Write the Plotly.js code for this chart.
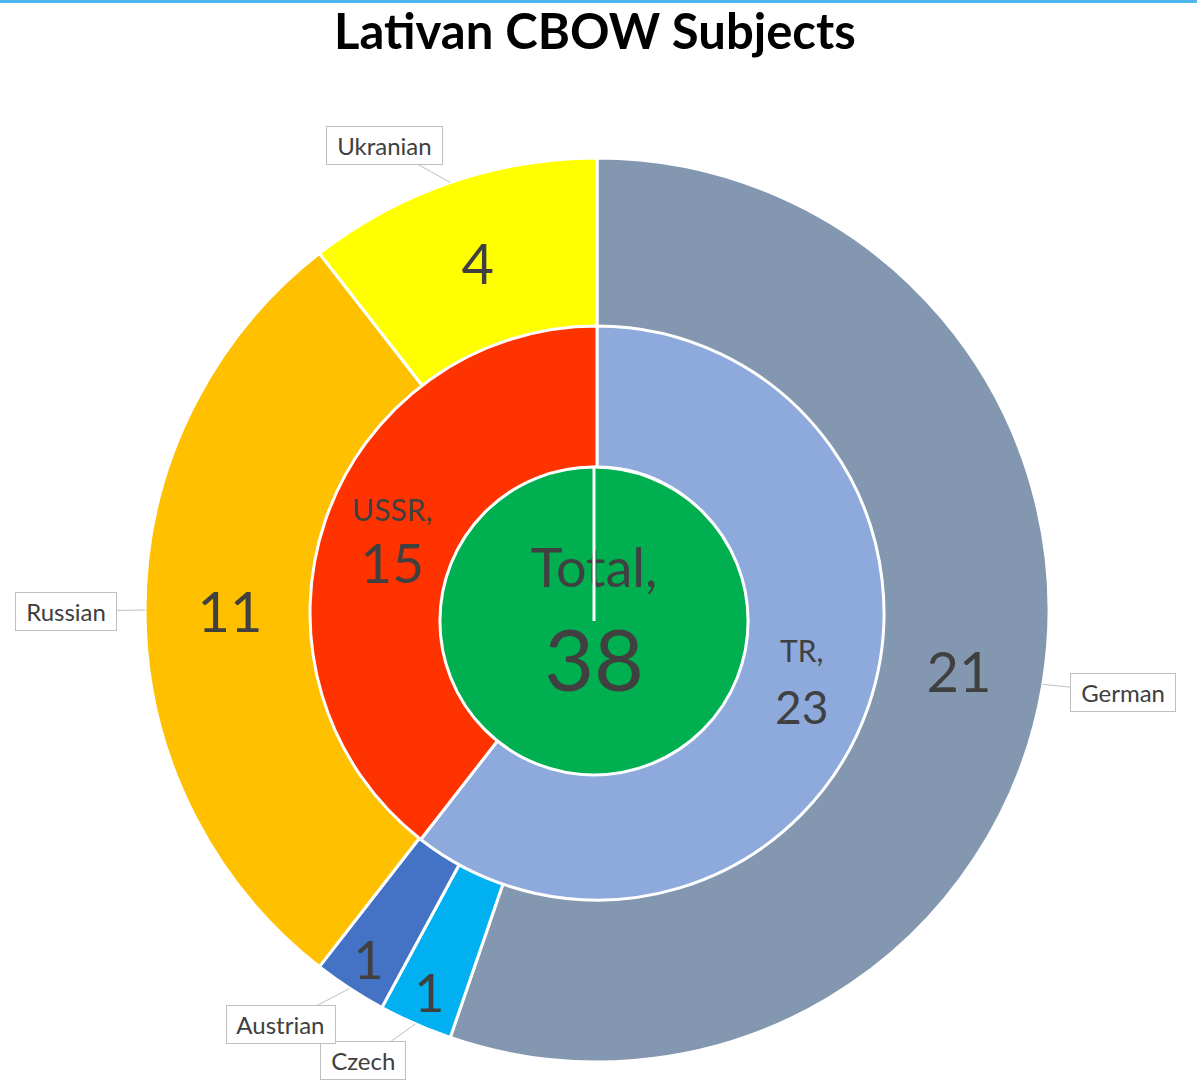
<!DOCTYPE html>
<html>
<head>
<meta charset="utf-8">
<script src="https://cdn.plot.ly/plotly-3.0.1.min.js"></script>
<style>
  html, body { margin: 0; padding: 0; background: #ffffff; }
  #chart { width: 1197px; height: 1084px; }
</style>
</head>
<body>
<div id="chart"></div>
<script>
// ---- data ----
const centerLabels = ['Total'];
const centerValues = [38];
const groupLabels = ['TR', 'USSR'];
const groupValues = [23, 15];
const nationLabels = ['German', 'Czech', 'Austrian', 'Russian', 'Ukranian'];
const nationValues = [21, 1, 1, 11, 4];

// ---- styles ----
const centerColors = ['#00B050'];
const groupColors = ['#8EA9DB', '#FF3300'];
const nationColors = ['#8497B0', '#00B0F0', '#4472C4', '#FFC000', '#FFFF00'];
const textColor = '#404040';
const FONT = 'Lato, "Open Sans", sans-serif';

const W = 1197, H = 1084;
const CX = 597, CY = 610, R_OUT = 452;        // outer ring
const MCX = 597, MCY = 613, R_MID = 287;      // middle ring
const ICX = 594, ICY = 621, R_IN = 154;       // centre disc

function domainFor(cx, cy, r) {
  return {
    x: [(cx - r) / W, (cx + r) / W],
    y: [1 - (cy + r) / H, 1 - (cy - r) / H]
  };
}

const centerText = centerLabels.map((l, i) =>
  '<span style="font-size:54px">' + l + ',</span><br><span style="font-size:86px">' + centerValues[i] + '</span>');
const groupSizes = [46, 55];
const groupText = groupLabels.map((l, i) =>
  '<span style="font-size:30px">' + l + ',</span><br><span style="font-size:' + groupSizes[i] + 'px">' + groupValues[i] + '</span>');
const nationText = nationValues.map(v => String(v));

const common = {
  type: 'pie',
  sort: false,
  direction: 'clockwise',
  rotation: 0,
  textposition: 'inside',
  insidetextorientation: 'horizontal',
  textinfo: 'text',
  hoverinfo: 'label+value',
  showlegend: false
};

const outer = Object.assign({}, common, {
  labels: nationLabels,
  values: nationValues,
  text: nationText,
  hole: (R_MID - 5) / R_OUT,
  domain: domainFor(CX, CY, R_OUT),
  marker: { colors: nationColors, line: { color: '#ffffff', width: 3 } },
  insidetextfont: { family: FONT, size: 56, color: textColor }
});

const middle = Object.assign({}, common, {
  labels: groupLabels,
  values: groupValues,
  text: groupText,
  hole: 146 / R_MID,
  domain: domainFor(MCX, MCY, R_MID),
  marker: { colors: groupColors, line: { color: '#ffffff', width: 3 } },
  insidetextfont: { family: FONT, size: 48, color: textColor }
});

const inner = Object.assign({}, common, {
  labels: centerLabels,
  values: centerValues,
  text: centerText,
  hole: 0,
  domain: domainFor(ICX, ICY, R_IN),
  marker: { colors: centerColors, line: { color: '#ffffff', width: 3 } },
  insidetextfont: { family: FONT, size: 80, color: textColor }
});

// callouts for outer ring
const calloutOffsets = [[80, 8], [-52, 37], [-69, 36], [-79, 1], [-66, -37]];
const totalOuter = nationValues.reduce((a, b) => a + b, 0);
let cum = 0;
const annotations = nationLabels.map((lab, i) => {
  const mid = (cum + nationValues[i] / 2) / totalOuter * 2 * Math.PI;
  cum += nationValues[i];
  const px = CX + R_OUT * Math.sin(mid);
  const py = CY - R_OUT * Math.cos(mid);
  return {
    xref: 'paper', yref: 'paper',
    x: px / W, y: 1 - py / H,
    text: '&nbsp;' + lab + '&nbsp;',
    showarrow: true, arrowhead: 0, arrowwidth: 1, arrowcolor: '#BFBFBF',
    ax: calloutOffsets[i][0], ay: calloutOffsets[i][1],
    bgcolor: '#ffffff', bordercolor: '#BFBFBF', borderwidth: 1, borderpad: 4,
    font: { family: FONT, size: 24, color: textColor }
  };
});

const layout = {
  width: W, height: H,
  margin: { l: 0, r: 0, t: 0, b: 0 },
  paper_bgcolor: '#ffffff',
  title: {
    text: 'Lativan CBOW Subjects',
    x: 0.497, xanchor: 'center',
    y: 1 - 32 / H, yref: 'container', yanchor: 'middle',
    font: { family: FONT, size: 49, color: '#000000', weight: 'bold' }
  },
  annotations: annotations,
  shapes: [
    { type: 'rect', xref: 'paper', yref: 'paper', x0: 0, x1: 1, y0: 1 - 3 / H, y1: 1,
      fillcolor: '#4DB6EE', line: { width: 0 } },
    { type: 'line', xref: 'paper', yref: 'paper',
      x0: ICX / W, x1: ICX / W, y0: 1 - (ICY - R_IN) / H, y1: 1 - ICY / H,
      line: { color: '#ffffff', width: 3 } }
  ]
};

Plotly.newPlot('chart', [outer, middle, inner], layout, { displayModeBar: false, staticPlot: true });
</script>
</body>
</html>
